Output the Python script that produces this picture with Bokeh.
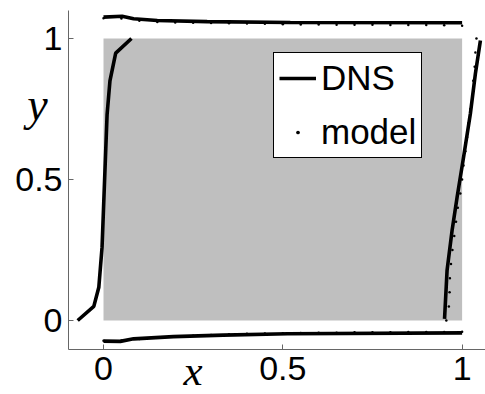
from bokeh.plotting import figure
from bokeh.models import (FixedTicker, NumeralTickFormatter, Label, Legend, LegendItem,
                          LinearAxis)
from bokeh.embed import file_html
from bokeh.resources import INLINE

# ---- data ----
box_x = [0.0, 1.0]
box_y = [0.0, 1.0]

# DNS curves
left_x = [-0.072, -0.027, -0.013, -0.004, 0.003, 0.010, 0.018, 0.034, 0.078]
left_y = [0.0, 0.05, 0.118, 0.26, 0.496, 0.73, 0.85, 0.948, 1.0]

right_x = [0.951, 0.958, 0.972, 0.986, 1.004, 1.023, 1.037, 1.051]
right_y = [0.006, 0.177, 0.319, 0.437, 0.579, 0.733, 0.875, 0.993]

top_x = [0.0, 0.052, 0.084, 0.15, 0.289, 0.521, 1.0]
top_y = [1.076, 1.079, 1.07, 1.064, 1.06, 1.057, 1.056]

bot_x = [0.0, 0.047, 0.084, 0.195, 0.334, 0.513, 1.0]
bot_y = [-0.073, -0.074, -0.065, -0.057, -0.052, -0.047, -0.044]

# model points
grid = [0.0, 0.05, 0.1, 0.15, 0.2, 0.25, 0.3, 0.35, 0.4, 0.45, 0.5,
        0.55, 0.6, 0.65, 0.7, 0.75, 0.8, 0.85, 0.9, 0.95, 1.0]
model_top_y = [1.072, 1.071, 1.063, 1.059, 1.057, 1.056, 1.055, 1.054, 1.053, 1.052, 1.051,
               1.050, 1.050, 1.049, 1.049, 1.049, 1.048, 1.048, 1.048, 1.047, 1.045]
model_bot_y = [-0.072, -0.071, -0.066, -0.061, -0.057, -0.054, -0.051, -0.049, -0.047, -0.046, -0.045,
               -0.044, -0.043, -0.043, -0.042, -0.042, -0.042, -0.041, -0.041, -0.041, -0.040]
model_right_x = [0.956, 0.963, 0.965, 0.966, 0.969, 0.973, 0.978, 0.983, 0.988, 0.995, 1.0,
                 1.004, 1.009, 1.014, 1.018, 1.023, 1.028, 1.031, 1.035, 1.037, 1.04]

ticks = [0, 0.5, 1]
x_axis_min, x_axis_max = -0.0976, 1.065
y_axis_min, y_axis_max = -0.1028, 1.099

FONT = "Liberation Sans"

p = figure(width=485, height=394, output_backend="svg", toolbar_location=None,
           x_range=(-0.2872, 1.0652), y_range=(-0.2624, 1.1348),
           x_axis_type=None, y_axis_type=None,
           min_border_left=0, min_border_right=0, min_border_top=0, min_border_bottom=0)
p.outline_line_color = None
p.background_fill_color = "white"

xaxis = LinearAxis(fixed_location=y_axis_min, bounds=(x_axis_min, x_axis_max))
yaxis = LinearAxis(fixed_location=x_axis_min, bounds=(y_axis_min, y_axis_max))
p.add_layout(xaxis, "below")
p.add_layout(yaxis, "left")

for ax in (xaxis, yaxis):
    ax.ticker = FixedTicker(ticks=ticks)
    ax.formatter = NumeralTickFormatter(format="0.[0]")
    ax.minor_tick_line_color = None
    ax.major_tick_in = 5
    ax.major_tick_out = 0
    ax.axis_line_color = "#666666"
    ax.major_tick_line_color = "#666666"
    ax.major_label_text_font = FONT
    ax.major_label_text_font_size = "34px"
    ax.major_label_text_color = "black"
xaxis.major_label_standoff = 8
yaxis.major_label_standoff = 6

p.quad(left=[box_x[0]], right=[box_x[1]], bottom=[box_y[0]], top=[box_y[1]],
       fill_color="#bfbfbf", line_color=None)

lw = 3.6
dns = p.line(left_x, left_y, line_color="black", line_width=lw)
p.line(right_x, right_y, line_color="black", line_width=lw)
p.line(top_x, top_y, line_color="black", line_width=lw)
p.line(bot_x, bot_y, line_color="black", line_width=lw)

mx = grid + grid + model_right_x
my = model_top_y + model_bot_y + grid
model = p.scatter(mx, my, marker="dot", size=10, line_color="black", fill_color="black")

p.add_layout(Label(x=0.25, y=-0.177, text="x", text_font="Liberation Serif",
                   text_font_style="italic", text_font_size="43px", text_color="black",
                   text_align="center", text_baseline="alphabetic"))
p.add_layout(Label(x=-0.184, y=0.765, text="y", text_font="Liberation Serif",
                   text_font_style="italic", text_font_size="46px", text_color="black",
                   text_align="center", text_baseline="alphabetic"))

legend = Legend(items=[LegendItem(label="DNS", renderers=[dns]),
                       LegendItem(label="model", renderers=[model])],
                location=(273, 236))
legend.border_line_color = "black"
legend.border_line_width = 1
legend.border_line_alpha = 1
legend.background_fill_color = "white"
legend.background_fill_alpha = 1
legend.label_text_font = FONT
legend.label_text_font_size = "35px"
legend.label_text_color = "black"
legend.glyph_width = 37
legend.glyph_height = 40
legend.label_height = 40
legend.label_standoff = 5
legend.padding = 5
legend.spacing = 14
legend.margin = 0
p.add_layout(legend)

open("out.html", "w").write(file_html(p, INLINE))
